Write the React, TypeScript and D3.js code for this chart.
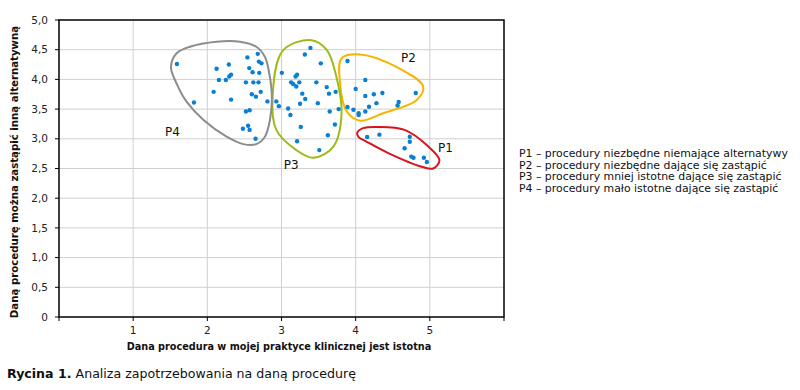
import React from 'react'
import * as d3 from 'd3'

// points: [x, y]
const p1Points: [number, number][] = [
  [4.155, 3.03], [4.32, 3.07], [4.73, 3.035], [4.73, 2.95], [4.66, 2.84],
  [4.75, 2.7], [4.78, 2.68], [4.92, 2.68], [4.96, 2.61],
]
const p2Points: [number, number][] = [
  [3.89, 4.31], [4.13, 3.99], [4.0, 3.84], [4.245, 3.75], [4.36, 3.77],
  [4.13, 3.72], [4.81, 3.77], [4.28, 3.6], [4.18, 3.54], [4.58, 3.62],
  [4.565, 3.56], [3.89, 3.535], [3.97, 3.49], [4.04, 3.43], [4.04, 3.4],
  [4.13, 3.46],
]
const p3Points: [number, number][] = [
  [3.39, 4.53], [3.315, 4.42], [3.53, 4.27], [3.005, 4.11], [3.21, 4.08],
  [3.19, 4.05], [3.13, 3.95], [3.16, 3.92], [3.24, 3.95], [3.2, 3.88],
  [3.47, 3.95], [3.61, 3.87], [3.28, 3.76], [3.64, 3.76], [3.73, 3.79],
  [3.32, 3.67], [3.49, 3.6], [3.25, 3.59], [2.93, 3.63], [2.965, 3.55],
  [3.09, 3.51], [3.12, 3.4], [3.65, 3.46], [3.77, 3.5], [3.72, 3.24],
  [3.26, 3.2], [3.625, 3.06], [3.21, 2.96], [3.51, 2.81],
]
const p4Points: [number, number][] = [
  [1.59, 4.26], [1.82, 3.61], [2.125, 4.18], [2.29, 4.25], [2.156, 3.99],
  [2.25, 3.99], [2.295, 4.05], [2.32, 4.08], [2.085, 3.79], [2.32, 3.66],
  [2.54, 4.37], [2.68, 4.43], [2.695, 4.3], [2.73, 4.27], [2.565, 4.19],
  [2.61, 4.12], [2.7, 4.11], [2.52, 3.95], [2.62, 3.95], [2.69, 3.95],
  [2.6, 3.75], [2.655, 3.71], [2.72, 3.79], [2.81, 3.63], [2.57, 3.48],
  [2.52, 3.46], [2.55, 3.22], [2.48, 3.17], [2.57, 3.15], [2.65, 3.0],
]

// hand-drawn group outlines, in data units
const p1Outline: [number, number][] = [
  [4.02, 3.1], [4.1, 3.18], [4.3, 3.2], [4.66, 3.15], [4.98, 2.87], [5.13, 2.64],
  [5.045, 2.5], [4.89, 2.53], [4.44, 2.76], [4.15, 2.95], [4.04, 3.03],
]
const p2Outline: [number, number][] = [
  [3.81, 4.355], [4.06, 4.42], [4.55, 4.21], [4.91, 3.88], [4.82, 3.65],
  [4.37, 3.43], [4.06, 3.305], [3.88, 3.46], [3.79, 3.93],
]
const p3Outline: [number, number][] = [
  [3.405, 4.66], [3.02, 4.49], [2.88, 3.71], [2.93, 3.15], [3.2, 2.81],
  [3.43, 2.68], [3.7, 2.87], [3.81, 3.43], [3.74, 4.045], [3.61, 4.495],
]
const p4Outline: [number, number][] = [
  [1.586, 4.44], [1.765, 4.55], [2.125, 4.635], [2.44, 4.635], [2.66, 4.55],
  [2.776, 4.38], [2.835, 4.1], [2.87, 3.71], [2.845, 3.32], [2.776, 3.035],
  [2.66, 2.91], [2.485, 2.91], [2.26, 3.035], [1.945, 3.32], [1.72, 3.625],
  [1.586, 3.93], [1.51, 4.21],
]

const groupNames = ['P1', 'P2', 'P3', 'P4']
const groupColors = ['#d7141d', '#f7b500', '#9dbb17', '#8c8c8c']
const labelPos: [number, number][] = [[5.11, 2.78], [4.61, 4.29], [3.03, 2.49], [1.43, 3.05]]
const legendLines = [
  'P1 – procedury niezbędne niemające alternatywy',
  'P2 – procedury niezbędne dające się zastąpić',
  'P3 – procedury mniej istotne dające się zastąpić',
  'P4 – procedury mało istotne dające się zastąpić',
]
const xTicks = [1, 2, 3, 4, 5]
const yTicks = d3.range(0, 5.01, 0.5)

const font = '"DejaVu Sans", sans-serif'

export default function App() {
  const margin = { left: 59, top: 20, right: 296, bottom: 73 }
  const width = 800
  const height = 390
  const x = d3.scaleLinear().domain([0, 6]).range([margin.left, width - margin.right])
  const y = d3.scaleLinear().domain([0, 5]).range([height - margin.bottom, margin.top])
  const outline = d3.line<[number, number]>()
    .x(d => x(d[0]))
    .y(d => y(d[1]))
    .curve(d3.curveCatmullRomClosed.alpha(0.5))

  const points = [p1Points, p2Points, p3Points, p4Points]
  const outlines = [p1Outline, p2Outline, p3Outline, p4Outline]
  const fmt = (v: number) => (v === 0 ? '0' : v.toFixed(1).replace('.', ','))

  return (
    <svg width={width} height={height} style={{ position: 'absolute', left: 0, top: 0, background: '#fff' }}
      fontFamily={font}>
      {/* grid */}
      {yTicks.filter(t => t > 0 && t < 5).map(t => (
        <line key={'gy' + t} x1={x(0)} x2={x(6)} y1={y(t)} y2={y(t)} stroke="#cfcfcf" strokeWidth={1} />
      ))}
      {xTicks.map(t => (
        <line key={'gx' + t} x1={x(t)} x2={x(t)} y1={y(0)} y2={y(5)} stroke="#cfcfcf" strokeWidth={1} />
      ))}
      {/* frame */}
      <rect x={x(0)} y={y(5)} width={x(6) - x(0)} height={y(0) - y(5)} fill="none" stroke="#000" strokeWidth={1.5} />
      {/* ticks */}
      {yTicks.map(t => (
        <g key={'ty' + t}>
          <line x1={x(0) - 4} x2={x(0)} y1={y(t)} y2={y(t)} stroke="#000" />
          <text x={x(0) - 11} y={y(t)} dy="0.35em" textAnchor="end" fontSize={10.5} fill="#222">{fmt(t)}</text>
        </g>
      ))}
      {d3.range(0, 7).map(t => (
        <line key={'tx' + t} x1={x(t)} x2={x(t)} y1={y(0)} y2={y(0) + 4} stroke="#000" />
      ))}
      {xTicks.map(t => (
        <text key={'lx' + t} x={x(t)} y={y(0) + 17} textAnchor="middle" fontSize={10.5} fill="#222">{t}</text>
      ))}
      {/* outlines */}
      {outlines.map((o, i) => (
        <path key={'o' + i} d={outline(o) || ''} fill="none" stroke={groupColors[i]} strokeWidth={2} />
      ))}
      {/* points */}
      {points.map((ps, i) => ps.map((p, j) => (
        <circle key={'p' + i + '-' + j} cx={x(p[0])} cy={y(p[1])} r={2.2} fill="#0a7fd1" />
      )))}
      {/* group labels */}
      {labelPos.map((p, i) => (
        <text key={'gl' + i} x={x(p[0])} y={y(p[1])} fontSize={12} fill="#111">{groupNames[i]}</text>
      ))}
      {/* axis titles */}
      <text x={279} y={350} textAnchor="middle" fontSize={9.7} fontWeight="bold" fill="#111">
        Dana procedura w mojej praktyce klinicznej jest istotna
      </text>
      <text transform={`translate(18, ${172}) rotate(-90)`} textAnchor="middle" fontSize={10.2}
        fontWeight="bold" fill="#111">
        Daną procedurę można zastąpić inną alternatywną
      </text>
      {/* legend */}
      {legendLines.map((l, i) => (
        <text key={'lg' + i} x={519} y={157 + i * 11.6} fontSize={10.9} fill="#111">{l}</text>
      ))}
      {/* caption */}
      <text x={7} y={378} fontSize={12.6} fill="#111">
        <tspan fontWeight="bold">Rycina 1.</tspan> Analiza zapotrzebowania na daną procedurę
      </text>
    </svg>
  )
}
